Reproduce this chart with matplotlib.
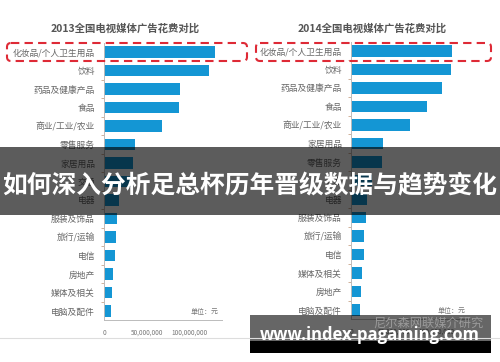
import matplotlib
matplotlib.use("Agg")
import matplotlib.pyplot as plt
from matplotlib.patches import Rectangle, FancyBboxPatch

plt.rcParams['font.family'] = ['Noto Sans CJK SC', 'DejaVu Sans']

# data (units: yuan)
cats_2013 = ["化妆品/个人卫生用品", "饮料", "药品及健康产品", "食品", "商业/工业/农业",
             "零售服务", "家居用品", "交通", "电器", "服装及饰品", "旅行/运输",
             "电信", "房地产", "媒体及相关", "电脑及配件"]
vals_2013 = [130e6, 123e6, 89e6, 88e6, 67.5e6, 36.3e6, 34.3e6, 32e6,
             17.5e6, 14.8e6, 13.7e6, 12.9e6, 10.2e6, 9.4e6, 8.2e6]

cats_2014 = ["化妆品/个人卫生用品", "饮料", "药品及健康产品", "食品", "商业/工业/农业",
             "家居用品", "零售服务", "交通", "电器", "服装及饰品", "旅行/运输",
             "电信", "媒体及相关", "房地产", "电脑及配件"]
vals_2014 = [118.6e6, 117.5e6, 107e6, 89.4e6, 69e6, 37.8e6, 36.6e6, 25e6,
             19e6, 17.2e6, 15.2e6, 15.2e6, 12.5e6, 11.4e6, 10.5e6]

xticks = [0, 50e6, 100e6]
xtick_labels = ["0", "50,000,000", "100,000,000"]

W, H = 500, 362
fig = plt.figure(figsize=(W / 100, H / 100), dpi=100)
fig.patch.set_facecolor("white")

BLUE = "#1496d4"


def panel(left_px, top_px, cats, vals, title, title_x):
    ax = fig.add_axes([left_px / W, (H - top_px - 277.5) / H, 118 / W, 277.5 / H])
    y = list(range(len(cats)))
    ax.barh(y, vals, height=0.64, color=BLUE)
    ax.set_ylim(len(cats) - 0.5, -0.5)
    ax.set_xlim(0, 138e6)
    ax.set_yticks(y)
    ax.set_yticklabels(cats, fontsize=6.3, color="#666666")
    ax.set_yticks([i + 0.5 for i in y[:-1]], minor=True)
    ax.tick_params(axis="y", which="major", length=0, pad=6.5)
    ax.tick_params(axis="y", which="minor", length=2.5, width=0.6, color="#c9a58a")
    ax.set_xticks(xticks)
    ax.set_xticklabels(xtick_labels, fontsize=4.6, color="#777777")
    ax.tick_params(axis="x", length=0, pad=6)
    for s in ["top", "right"]:
        ax.spines[s].set_visible(False)
    ax.spines["left"].set_color("#bbbbbb")
    ax.spines["bottom"].set_color("#bbbbbb")
    ax.spines["left"].set_linewidth(0.7)
    ax.spines["bottom"].set_linewidth(0.7)
    ax.text(0.85, 0.03, "单位：元", transform=ax.transAxes, fontsize=5,
            color="#777777", ha="center", va="center")
    fig.text(title_x / W, 1 - 28 / H, title, fontsize=7.5, fontweight="bold",
             color="#555555", ha="center", va="center")
    return ax


panel(104, 42.75, cats_2013, vals_2013, "2013全国电视媒体广告花费对比", 125)
panel(351, 41.75, cats_2014, vals_2014, "2014全国电视媒体广告花费对比", 372)

# overlay in pixel coordinates
ov = fig.add_axes([0, 0, 1, 1], facecolor="none")
ov.set_xlim(0, W)
ov.set_ylim(H, 0)
ov.axis("off")

# light separator line
ov.plot([0, W], [338, 338], color="#dddddd", lw=0.8)

# red dashed highlight boxes
for x0, x1 in [(7, 247), (256, 491)]:
    box = FancyBboxPatch((x0, 43), x1 - x0, 18, boxstyle="round,pad=0,rounding_size=4",
                         fill=False, ec="#de2a36", lw=1.5, ls=(0, (4, 2.5)))
    ov.add_patch(box)

# watermark
ov.text(428, 323, "尼尔森网联媒介研究", fontsize=8.8, color="#9a9a9a",
        ha="center", va="center")

# title banner
ov.add_patch(Rectangle((0, 147), W, 68, color="black", alpha=0.64, lw=0))
ov.text(250, 186, "如何深入分析足总杯历年晋级数据与趋势变化", fontsize=17.8,
        fontweight="bold", color="white", ha="center", va="center")

# url banner
ov.add_patch(Rectangle((250, 315), 241, 26, color="black", alpha=0.6, lw=0))
ov.add_patch(Rectangle((250, 341), 241, 12, color="black", lw=0))
url = ov.text(370, 335, "www.index-pagaming.com", fontsize=14, fontweight="bold",
              color="white", ha="center", va="center", family="Open Sans")
fig.canvas.draw()
bw = url.get_window_extent().width
url.set_fontsize(14 * 220 / bw)

fig.savefig("out.png", dpi=100)
